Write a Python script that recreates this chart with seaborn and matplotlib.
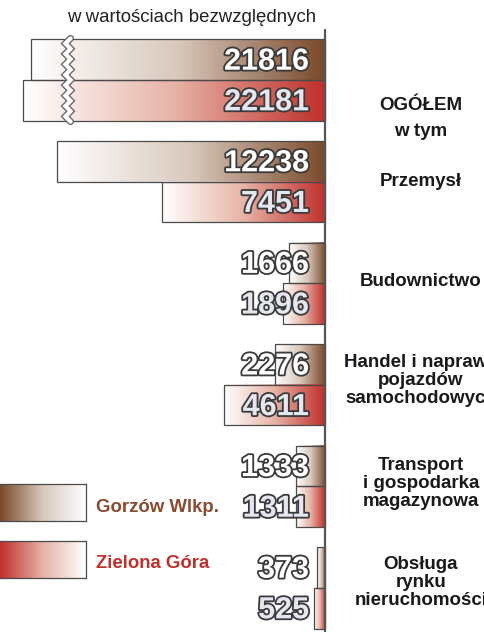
import numpy as np
import pandas as pd
import matplotlib
matplotlib.use("Agg")
import matplotlib.pyplot as plt
import seaborn as sns
from matplotlib.colors import LinearSegmentedColormap
import matplotlib.patheffects as pe

# ---------------- data ----------------
categories = ["OGÓŁEM", "Przemysł", "Budownictwo",
              "Handel i naprawa\npojazdów\nsamochodowych",
              "Transport\ni gospodarka\nmagazynowa",
              "Obsługa\nrynku\nnieruchomości"]
gorzow = [21816, 12238, 1666, 2276, 1333, 373]
zielona = [22181, 7451, 1896, 4611, 1311, 525]
series = ["Gorzów Wlkp.", "Zielona Góra"]
title = "w wartościach bezwzględnych"
subtitle = "w tym"
BREAK_CUT = 8400   # amount hidden by the axis break on the first group

BROWN = "#7a4a2b"
RED = "#c0302c"
LBL_BROWN = "#8c4a2e"

sns.set_theme(style="white")
plt.rcParams['font.family'] = ['Liberation Sans', 'DejaVu Sans']

W, H = 484, 632
fig = plt.figure(figsize=(W / 100, H / 100), dpi=100)
ax = fig.add_axes([0, 0, 1, 1])

rows = []
for i, c in enumerate(categories):
    for s, vals in zip(series, [gorzow, zielona]):
        v = vals[i]
        rows.append(dict(cat=c, series=s, value=v,
                         shown=v - BREAK_CUT if i == 0 else v))
df = pd.DataFrame(rows)

sns.barplot(data=df, y="cat", x="shown", hue="series", orient="h", ax=ax,
            width=0.8, palette=[BROWN, RED], saturation=1, legend=False,
            edgecolor="#4a4a4a", linewidth=0.9)

# pixel mapping
PX_PER_UNIT = 0.0219
AX0 = 325.0
def xd(px):
    return (AX0 - px) / PX_PER_UNIT
GY0, GSTEP = 80.0, 101.6
def yd(py):
    return (py - GY0) / GSTEP

cmaps = {
    "Gorzów Wlkp.": LinearSegmentedColormap.from_list("b", ["#ffffff", "#d8c8bc", BROWN]),
    "Zielona Góra": LinearSegmentedColormap.from_list("r", ["#ffffff", "#e6b3a6", RED]),
}

patches = list(ax.patches)
n = len(categories)
for k, p in enumerate(patches):
    s = series[k // n]
    x0, w = p.get_x(), p.get_width()
    y0, h = p.get_y(), p.get_height()
    grad = np.linspace(1, 0, 256)[None, :]
    ax.imshow(grad, extent=(x0, x0 + w, y0 + h, y0), cmap=cmaps[s],
              vmin=0, vmax=1, aspect="auto", zorder=1, interpolation="bilinear")
    p.set_facecolor("none")
    p.set_zorder(2)

# break mark on the first group
xb = xd(68)
yy = np.linspace(-0.41, 0.41, 17)
xx = xb + np.where(np.arange(len(yy)) % 2 == 0, -1, 1) * (2.6 / PX_PER_UNIT)
ax.plot(xx, yy, color="#6a6a6a", lw=5.0, zorder=3, solid_joinstyle="miter")
ax.plot(xx, yy, color="white", lw=3.0, zorder=4, solid_joinstyle="miter")

# vertical axis line
ax.plot([0, 0], [yd(30), yd(640)], color="#555555", lw=1.6, zorder=5)

# value labels
fills = {"Gorzów Wlkp.": "#ffffff", "Zielona Góra": "#e4e7ef"}
for k, p in enumerate(patches):
    s = series[k // n]
    i = k % n
    v = (gorzow if s == series[0] else zielona)[i]
    yc = p.get_y() + p.get_height() / 2
    ax.text(xd(309), yc + 0.02, f"{v}", ha="right", va="center",
            fontsize=22, fontweight="bold", color=fills[s], zorder=6,
            path_effects=[pe.withStroke(linewidth=2.6, foreground="#3a3a3a")])

# category labels
xl = xd(421)
offsets = [0.25, 0.0, -0.02, -0.04, -0.03, -0.05]
for i, c in enumerate(categories):
    ax.text(xl, i + offsets[i], c, ha="center", va="center", fontsize=13.5,
            fontweight="bold", color="#1a1a1a", linespacing=1.08, zorder=6)
ax.text(xl, yd(131), subtitle, ha="center", va="center", fontsize=13.5,
        fontweight="bold", color="#1a1a1a", zorder=6)

ax.set_xlim(xd(0), xd(W))
ax.set_ylim(yd(H), yd(0))
ax.axis("off")

# title
fig.text(192 / W, 1 - 18 / H, title, ha="center", va="center",
         fontsize=13.4, color="#222222")

# legend swatches
for s, top, col, lc in [(series[0], 484, BROWN, LBL_BROWN),
                        (series[1], 541, RED, RED)]:
    lax = fig.add_axes([0, 1 - (top + 37) / H, 86 / W, 37 / H])
    lax.imshow(np.linspace(1, 0, 256)[None, :],
               cmap=cmaps[s], vmin=0, vmax=1, aspect="auto",
               extent=(0, 1, 0, 1), interpolation="bilinear")
    lax.set_xticks([]); lax.set_yticks([])
    for sp in lax.spines.values():
        sp.set_color("#4a4a4a"); sp.set_linewidth(0.9)
    lax.spines["left"].set_visible(False)
    fig.text(96 / W, 1 - (top + 23) / H, s, ha="left", va="center",
             fontsize=13.4, fontweight="bold", color=lc)

fig.savefig("out.png", dpi=100)
